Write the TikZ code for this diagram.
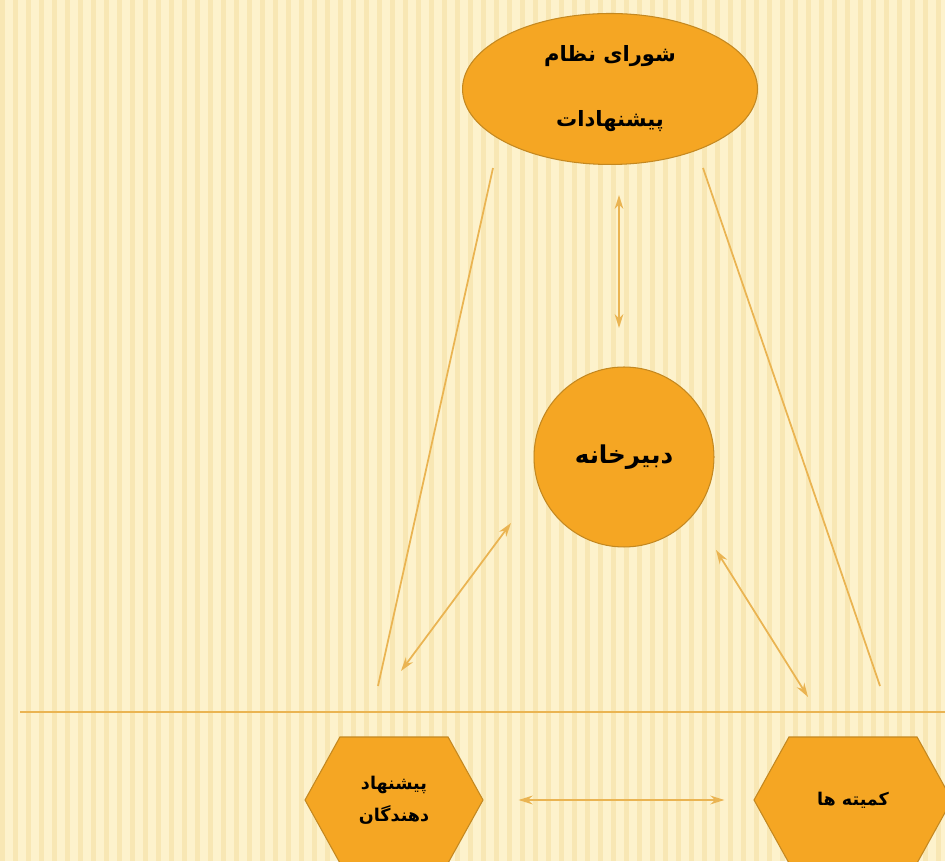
\documentclass[tikz,border=0pt]{standalone}
\usepackage{fontspec}
\newfontfamily\arabicfont[Script=Arabic]{DejaVu Sans}
\TeXXeTstate=1
\usepackage{tikz}
\usetikzlibrary{shapes.geometric, shapes.symbols, arrows.meta}

\definecolor{paper}{RGB}{253,242,204}
\definecolor{stripe}{RGB}{248,231,180}
\definecolor{amber}{RGB}{245,166,35}
\definecolor{amberdark}{RGB}{196,136,32}
\definecolor{goldline}{RGB}{234,180,82}

\begin{document}
\begin{tikzpicture}[x=0.02cm, y=0.02cm,
	unit/.style={fill=amber, draw=amberdark, line width=0.6pt, font=\arabicfont\bfseries, text=black, align=center, inner sep=0pt},
	hexa/.style={unit, signal, signal to=west and east, signal pointer angle=122, minimum height=2.52cm, font=\arabicfont\bfseries\fontsize{10}{18}\selectfont},
	link/.style={goldline, line width=1pt},
	both/.style={link, {Stealth[length=8pt,width=5pt]}-{Stealth[length=8pt,width=5pt]}}]
	\useasboundingbox (0,0) rectangle (945,861);
	% background
	\fill[paper] (0,0) rectangle (945,861);
	\foreach \i in {0,13,...,940}
		\fill[stripe] (\i,0) rectangle ++(5,861);
	\draw[goldline, line width=1.5pt] (20,149) -- (945,149);
	%
	\node[unit, ellipse, minimum width=5.9cm, minimum height=3.02cm, font=\arabicfont\bfseries\fontsize{12}{37}\selectfont] (shura) at (610,772)
		{\beginR شورای نظام\endR\\ \beginR پیشنهادات\endR};
	\node[unit, circle, minimum size=3.6cm, font=\arabicfont\bfseries\fontsize{14}{16}\selectfont] (dabir) at (624,404)
		{\beginR دبیرخانه\endR};
	\node[hexa, minimum width=3.56cm] (pishnahad) at (394,61)
		{\beginR پیشنهاد\endR\\ \beginR دهندگان\endR};
	\node[hexa, minimum width=3.96cm] (komite) at (853,61)
		{\beginR کمیته ها\endR};
	%
	\draw[link] ([shift={(-117,-79)}]shura.center) -- ([shift={(-16,114)}]pishnahad.center);
	\draw[link] ([shift={(93,-79)}]shura.center) -- ([shift={(27,114)}]komite.center);
	\draw[both] ([shift={(9,-106)}]shura.center) -- ([shift={(-5,129)}]dabir.center);
	\draw[both] ([shift={(-113,-66)}]dabir.center) -- ([shift={(7,129)}]pishnahad.center);
	\draw[both] ([shift={(92,-93)}]dabir.center) -- ([shift={(-45,103)}]komite.center);
	\draw[both, shorten <=0.7cm, shorten >=0.58cm] (pishnahad.east) -- (komite.west);
\end{tikzpicture}
\end{document}
